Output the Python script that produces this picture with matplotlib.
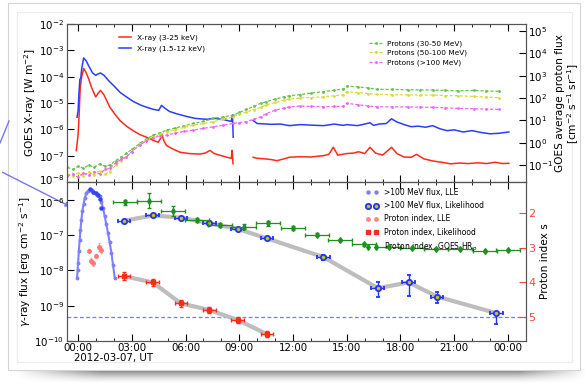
import numpy as np
import matplotlib
matplotlib.use('Agg')
import matplotlib.pyplot as plt
from matplotlib.lines import Line2D
from matplotlib.transforms import ScaledTranslation

# ---------------- DATA (hours since 2012-03-07 00:00 UT; log10 values) ----------------
xr_hi_t = [-0.1, 0.0, 0.05, 0.12, 0.2, 0.31, 0.45, 0.6, 0.74, 0.98, 1.1, 1.25, 1.45, 1.77, 2.05,
           2.33, 2.7, 3.07, 3.45, 3.82, 4.2, 4.47, 4.6, 4.68, 4.8, 4.94, 5.3, 5.69, 6.2, 6.8, 7.1,
           7.37, 7.6, 8.0, 8.3, 8.55, 8.6, 8.65, 9.2,
           9.77, 10.0, 10.4, 10.8, 11.1, 11.5, 11.8, 12.4, 13.0, 13.7, 14.0, 14.25, 14.5, 15.0,
           15.4, 15.66, 16.0, 16.3, 16.6, 17.0, 17.5, 17.8, 18.2, 18.6, 18.9, 19.3, 19.8, 20.3,
           20.8, 21.3, 21.8, 22.3, 22.8, 23.3, 23.7, 24.05]
xr_hi_log = [-6.81, -6.2, -5.54, -4.4, -4.0, -3.69, -3.85, -4.1, -4.39, -4.77, -4.65, -4.52, -4.7,
             -5.16, -5.42, -5.66, -5.88, -6.05, -6.2, -6.3, -6.42, -6.49, -6.35, -6.2, -6.45, -6.62,
             -6.75, -6.87, -6.92, -6.94, -6.9, -6.8, -6.92, -7.0, -7.06, -7.1, -6.8, -7.31, np.nan,
             -7.06, -7.1, -7.12, -7.15, -7.19, -7.12, -7.06, -7.04, -7.05, -7.0, -6.95, -6.68, -6.98,
             -6.92, -6.9, -6.85, -6.92, -6.68, -6.9, -6.98, -6.68, -6.92, -7.05, -7.06, -6.95, -7.12,
             -7.2, -7.25, -7.31, -7.28, -7.3, -7.27, -7.3, -7.25, -7.3, -7.29]

xr_lo_t = [-0.06, 0.0, 0.05, 0.1, 0.15, 0.2, 0.31, 0.45, 0.6, 0.8, 0.98, 1.1, 1.25, 1.45, 1.7, 2.0,
           2.35, 2.7, 3.1, 3.5, 3.82, 4.2, 4.5, 4.66, 4.85, 5.1, 5.5, 6.0, 6.5, 6.8, 7.2, 7.6, 8.0,
           8.3, 8.55, 8.62, 8.66, 9.2,
           9.77, 10.0, 10.3, 10.8, 11.3, 11.8, 12.4, 13.0, 13.7, 14.3, 14.8, 15.0, 15.6, 16.0, 16.3,
           16.5, 16.8, 17.2, 17.5, 17.8, 18.2, 18.6, 19.0, 19.4, 19.8, 20.2, 20.6, 21.0, 21.5, 22.0,
           22.5, 23.0, 23.5, 24.05]
xr_lo_log = [-5.54, -5.3, -4.6, -4.1, -4.05, -3.7, -3.29, -3.4, -3.6, -3.85, -3.95, -3.9, -3.86,
             -3.95, -4.15, -4.35, -4.6, -4.77, -4.95, -5.08, -5.16, -5.24, -5.28, -5.09, -5.2, -5.32,
             -5.41, -5.5, -5.58, -5.6, -5.62, -5.58, -5.62, -5.66, -5.7, -5.45, -6.3, np.nan,
             -5.66, -5.78, -5.79, -5.81, -5.8, -5.86, -5.82, -5.84, -5.86, -5.8, -5.85, -5.82, -5.86,
             -5.8, -5.75, -5.85, -5.8, -5.78, -5.6, -5.72, -5.82, -5.9, -5.88, -5.92, -5.86, -5.98,
             -6.05, -6.02, -6.1, -6.05, -6.12, -6.17, -6.15, -6.1]

prot_t = [-0.6, -0.3, 0.0, 0.3, 0.6, 0.9, 1.2, 1.5, 1.77, 2.1, 2.4, 2.7, 3.0, 3.45, 3.8, 4.2, 4.6,
          4.94, 5.4, 5.9, 6.43, 7.0, 7.55, 8.1, 8.65, 9.0, 9.4, 9.8, 10.2, 10.5, 11.0, 11.5, 11.8,
          12.4, 13.0, 13.7, 14.3, 14.8, 15.0, 15.6, 16.2, 16.7, 17.5, 18.4, 19.1, 19.8, 20.5, 21.2,
          22.1, 22.8, 23.5]
prot_30_50_log = [-1.1, -1.2, -1.05, -1.15, -1.0, -1.1, -0.95, -1.05, -1.0, -0.8, -0.65, -0.48,
                  -0.3, -0.03, 0.15, 0.34, 0.45, 0.56, 0.65, 0.75, 0.86, 0.95, 1.09, 1.15, 1.23,
                  1.35, 1.49, 1.62, 1.76, 1.83, 1.95, 2.05, 2.1, 2.15, 2.22, 2.28, 2.35, 2.4, 2.53,
                  2.5, 2.45, 2.39, 2.38, 2.37, 2.36, 2.36, 2.34, 2.32, 2.34, 2.31, 2.3]
prot_50_100_log = [-1.4, -1.5, -1.35, -1.5, -1.3, -1.45, -1.25, -1.4, -1.3, -1.0, -0.8, -0.63,
                   -0.4, -0.07, 0.1, 0.26, 0.38, 0.49, 0.58, 0.68, 0.78, 0.86, 0.94, 1.05, 1.16,
                   1.27, 1.38, 1.48, 1.58, 1.68, 1.8, 1.9, 1.95, 2.0, 2.02, 2.05, 2.1, 2.14, 2.28,
                   2.24, 2.2, 2.16, 2.15, 2.14, 2.13, 2.13, 2.11, 2.1, 2.07, 2.04, 2.01]
prot_100_log = [-1.5, -1.4, -1.55, -1.35, -1.45, -1.3, -1.4, -1.2, -1.15, -0.9, -0.75, -0.63,
                -0.4, -0.11, 0.08, 0.23, 0.3, 0.34, 0.42, 0.5, 0.56, 0.64, 0.71, 0.78, 0.86, 0.9,
                0.94, 1.05, 1.16, 1.3, 1.45, 1.55, 1.6, 1.64, 1.62, 1.61, 1.62, 1.63, 1.76, 1.7,
                1.64, 1.61, 1.6, 1.6, 1.59, 1.58, 1.56, 1.53, 1.52, 1.5, 1.49]

lle_t = [-0.06, -0.03, 0.0, 0.04, 0.09, 0.13, 0.18, 0.24, 0.31, 0.38, 0.46, 0.55, 0.65, 0.75, 0.85,
         0.95, 1.05, 1.13, 1.21, 1.3, 1.39, 1.48, 1.57, 1.67, 1.76, 1.86, 1.95, 2.05]
lle_flux_log = [-8.22, -8.0, -7.8, -7.45, -7.13, -6.85, -6.57, -6.3, -6.1, -5.93, -5.8, -5.74, -5.72,
                -5.73, -5.76, -5.8, -5.85, -5.87, -5.9, -6.05, -6.23, -6.45, -6.68, -6.94, -7.2,
                -7.5, -7.85, -8.22]
lle_peak_t = [0.65, 0.83, 0.98, 1.11, 1.21, 1.3]
lle_peak_log = [-5.70, -5.76, -5.81, -5.86, -5.98, -6.24]

lle_idx_t = [0.61, 0.74, 0.83, 1.02, 1.17, 1.3]
lle_idx = [3.08, 3.37, 3.45, 3.24, 2.97, 3.06]
lle_idx_err = [0.05, 0.08, 0.08, 0.06, 0.12, 0.1]

like_t = [2.55, 4.16, 5.74, 7.33, 8.91, 10.54, 13.7, 16.73, 18.46, 20.05, 23.35]
like_flux_log = [-6.59, -6.44, -6.5, -6.66, -6.82, -7.09, -7.62, -8.5, -8.34, -8.74, -9.21]
like_flux_dn = [0.03, 0.03, 0.03, 0.03, 0.03, 0.04, 0.07, 0.25, 0.38, 0.19, 0.3]
like_flux_up = [0.03, 0.03, 0.03, 0.03, 0.03, 0.04, 0.07, 0.16, 0.22, 0.14, 0.03]

like_idx_t = [2.55, 4.16, 5.74, 7.33, 8.91, 10.54]
like_idx = [3.82, 4.0, 4.61, 4.8, 5.09, 5.5]
like_idx_err = [0.12, 0.1, 0.1, 0.1, 0.1, 0.08]

goes_t = [2.6, 3.97, 5.28, 6.62, 7.92, 9.27, 10.63, 11.99, 13.33, 14.64, 15.98, 17.34, 18.67,
          19.99, 21.35, 22.7, 24.02]
goes_idx = [1.68, 1.63, 1.93, 2.19, 2.34, 2.39, 2.29, 2.42, 2.62, 2.77, 2.9, 2.97, 3.01, 3.03,
            3.04, 3.08, 3.06]
goes_err = [0.07, 0.22, 0.15, 0.07, 0.05, 0.07, 0.07, 0.05, 0.04, 0.04, 0.04, 0.04, 0.03, 0.03,
            0.03, 0.03, 0.03]

sensitivity_flux = 4.8e-10
tick_hours = [0, 3, 6, 9, 12, 15, 18, 21, 24]
tick_labels = ['00:00', '03:00', '06:00', '09:00', '12:00', '15:00', '18:00', '21:00', '00:00']

# ---------------- FIGURE ----------------
plt.rcParams['font.family'] = ['DejaVu Sans']
plt.rcParams['mathtext.fontset'] = 'dejavusans'
W, H = 587, 386
fig = plt.figure(figsize=(W / 100, H / 100), dpi=100)
fig.patch.set_facecolor('white')

TICK_FS = 7.4
LAB_FS = 7.6


def fx(px):
    return px / W


def fy(py):
    return 1 - py / H


# background card, shadow and decorative arrow
bg = fig.add_axes([0, 0, 1, 1], zorder=-10)
bg.set_xlim(0, W)
bg.set_ylim(H, 0)
bg.axis('off')
xs = np.linspace(0, 1, 400)
ys = np.linspace(0, 1, 30)
ax_prof = np.clip(np.minimum(xs / 0.15, (1 - xs) / 0.12), 0, 1)
ay_prof = (1 - ys) ** 1.6
alpha = np.outer(ay_prof, ax_prof) * 0.75
img = np.zeros((len(ys), len(xs), 4))
img[..., :3] = 0.25
img[..., 3] = alpha
bg.imshow(img, extent=[15, 587, 384, 369], aspect='auto', interpolation='bilinear', zorder=0)
bg.add_patch(plt.Rectangle((8, 3), 572, 367, facecolor='white', edgecolor='#d4d4d4', lw=0.8, zorder=1))
bg.add_patch(plt.Rectangle((17, 12), 555, 350, facecolor='white', edgecolor='#ececec', lw=0.8, zorder=2))
bg.plot([0, 9], [143, 121], color='#7777ee', lw=1, zorder=3)
bg.annotate('', xy=(73, 208), xytext=(0, 171),
            arrowprops=dict(arrowstyle='-|>', color='#7777ee', lw=1, mutation_scale=7), zorder=3)

left, right = 67, 525.5
ax1 = fig.add_axes([fx(left), fy(182), fx(right) - fx(left), (182 - 24) / H])
ax2 = fig.add_axes([fx(left), fy(341), fx(right) - fx(left), (341 - 182) / H])
ax1r = ax1.twinx()
ax2r = ax2.twinx()

xlim = (-0.62, 24.98)


def lin(v):
    return 10 ** np.asarray(v, dtype=float)


# ----- top panel -----
l_red, = ax1.plot(xr_hi_t, lin(xr_hi_log), color='#ff2a1a', lw=1.1, label='X-ray (3-25 keV)')
l_blue, = ax1.plot(xr_lo_t, lin(xr_lo_log), color='#2a3cff', lw=1.1, label='X-ray (1.5-12 keV)')
ax1.set_yscale('log')
ax1.set_ylim(1e-8, 1e-2)
ax1.set_yticks([10.0 ** k for k in range(-8, -1)])
ax1.set_xlim(*xlim)
ax1.set_ylabel('GOES X-ray [W m$^{-2}$]', fontsize=LAB_FS, labelpad=1)

pkw = dict(lw=0.9, ls=(0, (2.5, 1.5)), marker='.', ms=2.0)
p1, = ax1r.plot(prot_t, lin(prot_30_50_log), color='#66c24a', label='Protons (30-50 MeV)', **pkw)
p2, = ax1r.plot(prot_t, lin(prot_50_100_log), color='#dada3a', label='Protons (50-100 MeV)', **pkw)
p3, = ax1r.plot(prot_t, lin(prot_100_log), color='#ee66ee', label='Protons (>100 MeV)', **pkw)
ax1r.set_yscale('log')
ax1r.set_ylim(10 ** -1.76, 10 ** 5.31)
ax1r.set_yticks([10.0 ** k for k in range(-1, 6)])
ax1r.set_ylabel('GOES average proton flux\n[cm$^{-2}$ s$^{-1}$ sr$^{-1}$]', fontsize=LAB_FS,
                labelpad=1, linespacing=1.05)

ax1.legend(handles=[l_red, l_blue], loc='upper left', bbox_to_anchor=(fx(116), fy(31)),
           bbox_transform=fig.transFigure, frameon=False, fontsize=5.4, handlelength=1.6,
           handletextpad=0.8, labelspacing=0.55, borderaxespad=0)
ax1r.legend(handles=[p1, p2, p3], loc='upper left', bbox_to_anchor=(fx(366), fy(37)),
            bbox_transform=fig.transFigure, frameon=False, fontsize=5.3, handlelength=1.8,
            handletextpad=0.7, labelspacing=0.4, borderaxespad=0)

# ----- bottom panel -----
ax2.set_yscale('log')
ax2.set_xlim(*xlim)
ax2.set_ylim(1e-10, 10 ** -5.49)
ax2.set_yticks([10.0 ** k for k in range(-10, -5)])
ax2r.set_ylim(5.70, 1.09)

ax2.axhline(sensitivity_flux, color='#7777ff', lw=0.9, ls=(0, (3, 2)), zorder=1)

lf = lin(like_flux_log)
ax2.plot(like_t, lf, color='#bdbdbd', lw=3.0, solid_capstyle='round', zorder=2)
ax2r.plot(like_idx_t, like_idx, color='#bdbdbd', lw=3.0, solid_capstyle='round', zorder=2)

ax2.plot(lle_t, lin(lle_flux_log), color='#8080ff', lw=1.5, marker='o', ms=1.8, ls='-', zorder=3)
ax2.plot(lle_peak_t, lin(lle_peak_log), ls='none', marker='o', ms=2.2, color='#3344ee', zorder=4)

lo = lf - lf * 10 ** (-np.asarray(like_flux_dn))
hi = lf * 10 ** np.asarray(like_flux_up) - lf
ax2.errorbar(like_t, lf, xerr=0.35, yerr=[lo, hi], fmt='o', ms=3.8, mfc='#c8c800', mec='#2233ff',
             mew=1.3, ecolor='#2233ff', elinewidth=1, capsize=1.5, zorder=5)
h_like = Line2D([], [], ls='none', marker='o', ms=3.8, mfc='#c8c800', mec='#2233ff', mew=1.3,
                label='>100 MeV flux, Likelihood')
h_lle_leg = Line2D([], [], ls='none', marker='o', ms=2.2, color='#8080ff',
                   label='>100 MeV flux, LLE')

ax2r.errorbar(lle_idx_t, lle_idx, yerr=lle_idx_err, fmt='o', ms=2.5, color='#ff7777',
              ecolor='#ff9999', elinewidth=0.8, capsize=1, zorder=4)
h_lleidx = Line2D([], [], ls='none', marker='o', ms=2.5, color='#ff8888', label='Proton index, LLE')

ax2r.errorbar(like_idx_t, like_idx, xerr=0.35, yerr=like_idx_err, fmt='s', ms=3, color='#ff2a1a',
              ecolor='#ff2a1a', elinewidth=1, capsize=1.5, zorder=5)
h_likeidx = Line2D([], [], ls='none', marker='s', ms=3, color='#ff2a1a',
                   label='Proton index, Likelihood')

ax2r.errorbar(goes_t, goes_idx, xerr=0.67, yerr=goes_err, fmt='d', ms=3, color='#1f8f1f',
              ecolor='#1f8f1f', elinewidth=0.9, capsize=1.5, zorder=5)
h_goes = Line2D([], [], ls='none', marker='d', ms=3, color='#1f8f1f',
                label='Proton index, GOES HR$_p$')

ax2.set_ylabel(r'$\gamma$-ray flux [erg cm$^{-2}$ s$^{-1}$]', fontsize=LAB_FS, labelpad=1)
ax2r.set_ylabel('Proton index s', fontsize=LAB_FS, labelpad=3)
ax2r.set_yticks([2, 3, 4, 5])

ax2r.legend(handles=[h_lle_leg, h_like, h_lleidx, h_likeidx, h_goes], loc='upper left',
            bbox_to_anchor=(fx(363), fy(185)), bbox_transform=fig.transFigure, frameon=False,
            fontsize=5.5, numpoints=2, handlelength=1.6, handletextpad=0.8, labelspacing=0.55,
            borderaxespad=0)

# ----- ticks -----
for a in (ax1, ax2):
    a.set_xticks(tick_hours)
    a.set_xticks(range(0, 25), minor=True)
    a.tick_params(axis='x', which='both', direction='in', top=True, bottom=True)
    a.tick_params(axis='x', which='major', length=5)
    a.tick_params(axis='x', which='minor', length=2.5)
    a.yaxis.set_minor_locator(matplotlib.ticker.NullLocator())
    a.tick_params(axis='y', which='major', direction='in', length=5, labelsize=TICK_FS, pad=2)
ax1.tick_params(axis='x', labelbottom=False)
ax2.set_xticklabels(tick_labels, fontsize=TICK_FS)
ax2.tick_params(axis='x', pad=1.5)
for a in (ax1r, ax2r):
    a.yaxis.set_minor_locator(matplotlib.ticker.NullLocator())
    a.tick_params(axis='y', which='major', direction='in', length=5, labelsize=TICK_FS, pad=2)
ax2r.tick_params(axis='y', colors='#ff4444', labelsize=8)

for a in (ax1, ax2, ax1r, ax2r):
    for s in a.spines.values():
        s.set_color('#555555')

# nudge the two tick labels that meet at the panel junction apart slightly
t_low = ax1.yaxis.get_major_ticks()[0].label1
t_low.set_transform(t_low.get_transform() + ScaledTranslation(0, 2.5 / 100, fig.dpi_scale_trans))
t_top = ax2.yaxis.get_major_ticks()[-1].label1
t_top.set_transform(t_top.get_transform() + ScaledTranslation(0, -2.0 / 100, fig.dpi_scale_trans))

fig.text(fx(114), fy(358), '2012-03-07, UT', fontsize=TICK_FS, ha='center', va='center')

fig.savefig('out.png', dpi=100, facecolor='white')
